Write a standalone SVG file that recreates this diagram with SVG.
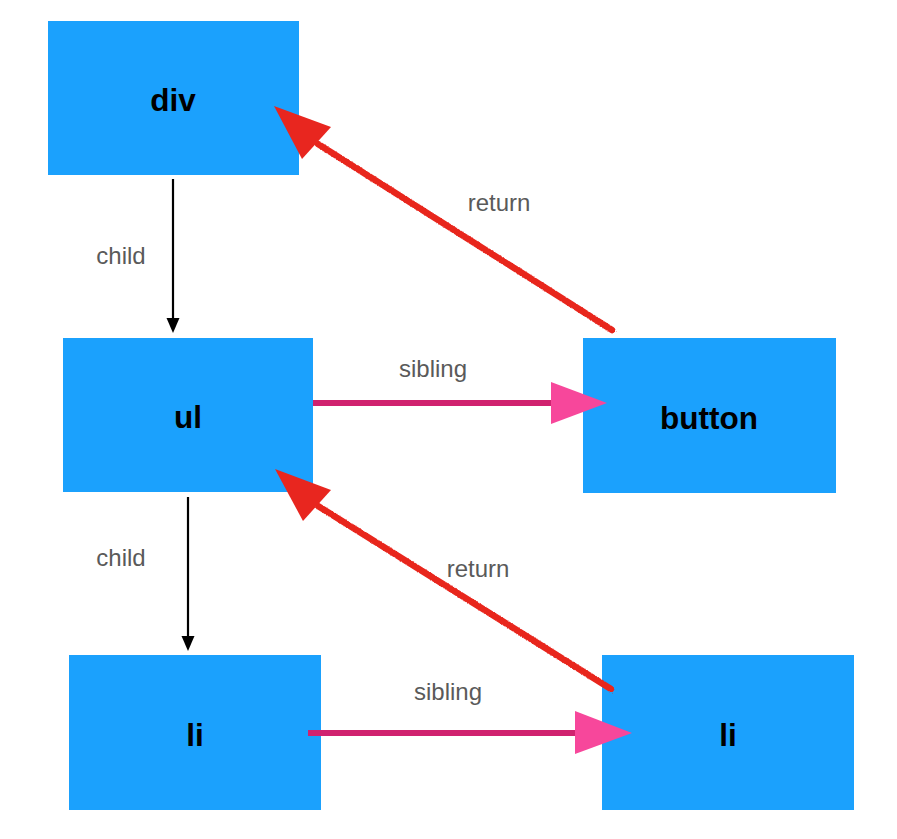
<svg xmlns="http://www.w3.org/2000/svg" width="897" height="839" viewBox="0 0 897 839">
<defs>
<style>
.node{fill:#1ba1fd;}
.nt{font-family:"Liberation Sans",Arial,sans-serif;font-weight:bold;font-size:31.5px;fill:#000;text-anchor:middle;}
.lbl{font-family:"Liberation Sans",Arial,sans-serif;font-size:24px;fill:#5a5a5a;text-anchor:middle;}
.child{stroke:#000;stroke-width:2.2;fill:none;}
.childhead{fill:#000;}
.sib{stroke:#d0226f;stroke-width:6;fill:none;}
.sibhead{fill:#f7479b;}
.ret{stroke:#e8261f;stroke-width:6.5;fill:none;stroke-linecap:round;}
.rethead{fill:#e8261f;}
</style>
<filter id="rough" x="-5%" y="-5%" width="110%" height="110%">
<feTurbulence type="fractalNoise" baseFrequency="0.8" numOctaves="2" seed="3" result="n"/>
<feDisplacementMap in="SourceGraphic" in2="n" scale="3.5"/>
</filter>
</defs>
<rect width="897" height="839" fill="#fff"/>
<g id="node-div"><rect class="node" x="48" y="21" width="251" height="154"/><text class="nt" x="173" y="111">div</text></g>
<g id="node-ul"><rect class="node" x="63" y="338" width="250" height="154"/><text class="nt" x="188" y="428">ul</text></g>
<g id="node-button"><rect class="node" x="583" y="338" width="253" height="155"/><text class="nt" x="709" y="429">button</text></g>
<g id="node-li1"><rect class="node" x="69" y="655" width="252" height="155"/><text class="nt" x="195" y="746">li</text></g>
<g id="node-li2"><rect class="node" x="602" y="655" width="252" height="155"/><text class="nt" x="728" y="746">li</text></g>
<g id="connectors">
<line class="child" x1="173" y1="179" x2="173" y2="320"/>
<polygon class="childhead" points="166.5,318 179.5,318 173,333"/>
<text class="lbl" x="121" y="264">child</text>
<line class="child" x1="188" y1="497" x2="188" y2="638"/>
<polygon class="childhead" points="181.5,636 194.5,636 188,651"/>
<text class="lbl" x="121" y="566">child</text>
<line class="sib" x1="313" y1="403" x2="553" y2="403"/>
<polygon class="sibhead" points="551,382 607,403 551,424"/>
<text class="lbl" x="433" y="377">sibling</text>
<line class="sib" x1="308" y1="733" x2="577" y2="733"/>
<polygon class="sibhead" points="575,711 632,733 575,754"/>
<text class="lbl" x="448" y="700">sibling</text>
<g filter="url(#rough)">
<line class="ret" x1="612" y1="330" x2="318" y2="144"/>
<line class="ret" x1="611" y1="689" x2="318" y2="506"/>
</g>
<polygon class="rethead" points="274,106 331,127 302,159"/>
<polygon class="rethead" points="275,469 331,490 303,521"/>
<text class="lbl" x="499" y="211">return</text>
<text class="lbl" x="478" y="577">return</text>
</g>
</svg>
